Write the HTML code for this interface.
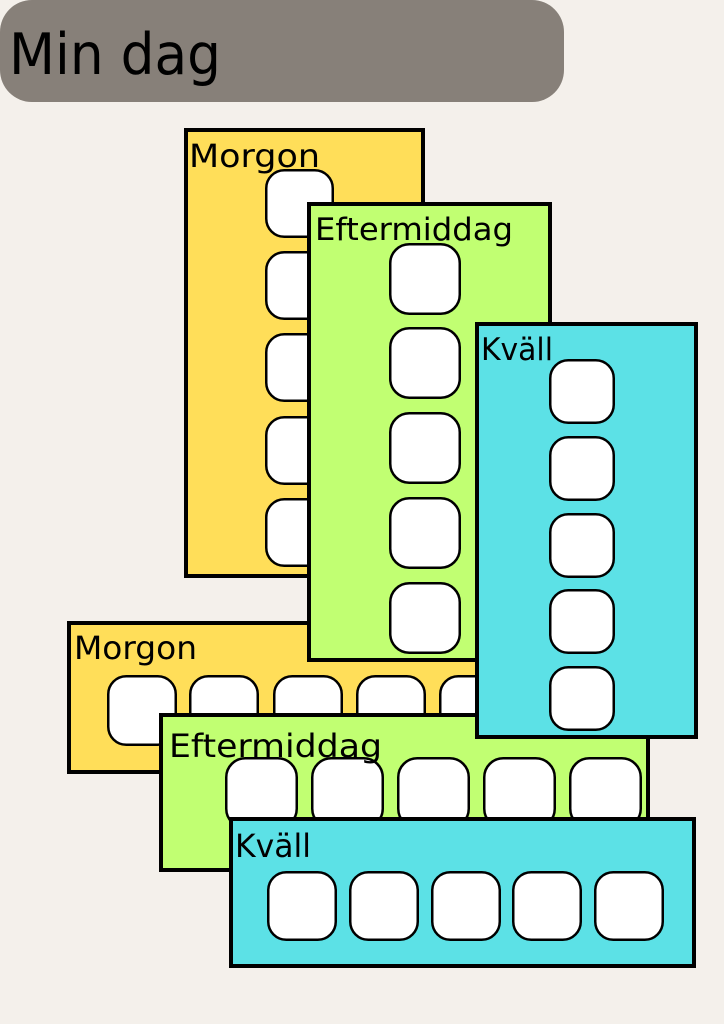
<!DOCTYPE html>
<html>
<head>
<meta charset="utf-8">
<style>
html,body{margin:0;padding:0;background:#F4F0EB;}
svg{display:block;}
text{font-family:"DejaVu Sans","Liberation Sans",sans-serif;fill:#000;}
</style>
</head>
<body>
<svg width="724" height="1024" viewBox="0 0 724 1024" xmlns="http://www.w3.org/2000/svg">
<rect x="0" y="0" width="724" height="1024" fill="#F4F0EB"/>
<!-- Title -->
<rect x="0" y="0" width="564" height="102" rx="32" ry="32" fill="#878079"/>
<text x="9" y="74" font-size="57" textLength="212" lengthAdjust="spacingAndGlyphs">Min dag</text>

<g stroke="#000">
<!-- Morgon vertical -->
<rect x="186" y="130" width="237" height="446" fill="#FFDE59" stroke-width="4"/>
<g fill="#fff" stroke-width="2.5">
<rect x="266.25" y="170.25" width="66.5" height="66.5" rx="18"/>
<rect x="266.25" y="252.25" width="66.5" height="66.5" rx="18"/>
<rect x="266.25" y="334.25" width="66.5" height="66.5" rx="18"/>
<rect x="266.25" y="417.25" width="66.5" height="66.5" rx="18"/>
<rect x="266.25" y="499.25" width="66.5" height="66.5" rx="18"/>
</g>
</g>
<text x="189" y="167" font-size="32" textLength="131" lengthAdjust="spacingAndGlyphs">Morgon</text>

<g stroke="#000">
<!-- Morgon horizontal -->
<rect x="69" y="623" width="449" height="149" fill="#FFDE59" stroke-width="4"/>
<g fill="#fff" stroke-width="2.5">
<rect x="108.25" y="676.25" width="67.5" height="68.5" rx="18"/>
<rect x="190.25" y="676.25" width="67.5" height="68.5" rx="18"/>
<rect x="274.25" y="676.25" width="67.5" height="68.5" rx="18"/>
<rect x="357.25" y="676.25" width="67.5" height="68.5" rx="18"/>
<rect x="440.25" y="676.25" width="67.5" height="68.5" rx="18"/>
</g>
</g>
<text x="74" y="659" font-size="32" textLength="123" lengthAdjust="spacingAndGlyphs">Morgon</text>

<g stroke="#000">
<!-- Eftermiddag vertical -->
<rect x="309" y="204" width="241" height="456" fill="#C1FF72" stroke-width="4"/>
<g fill="#fff" stroke-width="2.5">
<rect x="390.25" y="244.25" width="69.5" height="69.5" rx="19"/>
<rect x="390.25" y="328.25" width="69.5" height="69.5" rx="19"/>
<rect x="390.25" y="413.25" width="69.5" height="69.5" rx="19"/>
<rect x="390.25" y="498.25" width="69.5" height="69.5" rx="19"/>
<rect x="390.25" y="583.25" width="69.5" height="69.5" rx="19"/>
</g>
</g>
<text x="315" y="240" font-size="31" textLength="198" lengthAdjust="spacingAndGlyphs">Eftermiddag</text>

<g stroke="#000">
<!-- Eftermiddag horizontal -->
<rect x="161" y="715" width="487" height="155" fill="#C1FF72" stroke-width="4"/>
<g fill="#fff" stroke-width="2.5">
<rect x="226.25" y="758.25" width="70.5" height="69.5" rx="19"/>
<rect x="312.25" y="758.25" width="70.5" height="69.5" rx="19"/>
<rect x="398.25" y="758.25" width="70.5" height="69.5" rx="19"/>
<rect x="484.25" y="758.25" width="70.5" height="69.5" rx="19"/>
<rect x="570.25" y="758.25" width="70.5" height="69.5" rx="19"/>
</g>
</g>
<text x="169" y="757" font-size="32" textLength="213" lengthAdjust="spacingAndGlyphs">Eftermiddag</text>

<g stroke="#000">
<!-- Kväll vertical -->
<rect x="477" y="324" width="219" height="413" fill="#5CE1E6" stroke-width="4"/>
<g fill="#fff" stroke-width="2.5">
<rect x="550.25" y="360.25" width="63.5" height="62.5" rx="18"/>
<rect x="550.25" y="437.25" width="63.5" height="62.5" rx="18"/>
<rect x="550.25" y="514.25" width="63.5" height="62.5" rx="18"/>
<rect x="550.25" y="590.25" width="63.5" height="62.5" rx="18"/>
<rect x="550.25" y="667.25" width="63.5" height="62.5" rx="18"/>
</g>
</g>
<text x="481" y="360" font-size="31" textLength="72" lengthAdjust="spacingAndGlyphs">Kväll</text>

<g stroke="#000">
<!-- Kväll horizontal -->
<rect x="231" y="819" width="463" height="147" fill="#5CE1E6" stroke-width="4"/>
<g fill="#fff" stroke-width="2.5">
<rect x="268.25" y="872.25" width="67.5" height="67.5" rx="18"/>
<rect x="350.25" y="872.25" width="67.5" height="67.5" rx="18"/>
<rect x="432.25" y="872.25" width="67.5" height="67.5" rx="18"/>
<rect x="513.25" y="872.25" width="67.5" height="67.5" rx="18"/>
<rect x="595.25" y="872.25" width="67.5" height="67.5" rx="18"/>
</g>
</g>
<text x="235" y="857" font-size="32" textLength="76" lengthAdjust="spacingAndGlyphs">Kväll</text>
</svg>
</body>
</html>
